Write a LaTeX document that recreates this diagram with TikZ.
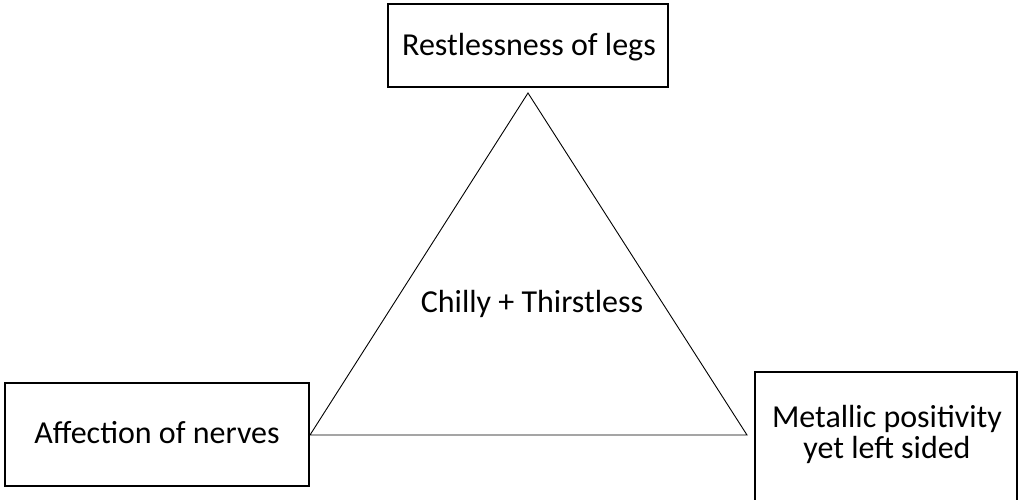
\documentclass[tikz,border=0pt]{standalone}
\usepackage{fontspec}
\setmainfont{Carlito}
\begin{document}
\begin{tikzpicture}[x=1pt,y=-1pt,
  lbl/.style={font=\fontsize{32}{31}\selectfont, align=center, inner sep=0pt, anchor=base},
  boxline/.style={draw=black, line width=1.6pt},
  triline/.style={draw=black, line width=0.9pt}]
\useasboundingbox (0,0) rectangle (1021,499);
\draw[boxline] (388,4) rectangle (668,87);
\draw[boxline] (5,383) rectangle (309,486);
\draw[boxline] (755,372) rectangle (1017,510);
\node[lbl] (top) at (529,55) {Restlessness of legs};
\node[lbl] (left) at (157,443) {Affection of nerves};
\node[lbl] (right) at (887,458) {Metallic positivity\\yet left sided};
\node[lbl] (mid) at (532,312) {Chilly + Thirstless};
\coordinate (A) at (528,93);
\coordinate (B) at (310,435);
\coordinate (C) at (747,435);
\draw[triline] (A) -- (B) -- (C) -- cycle;
\end{tikzpicture}
\end{document}
